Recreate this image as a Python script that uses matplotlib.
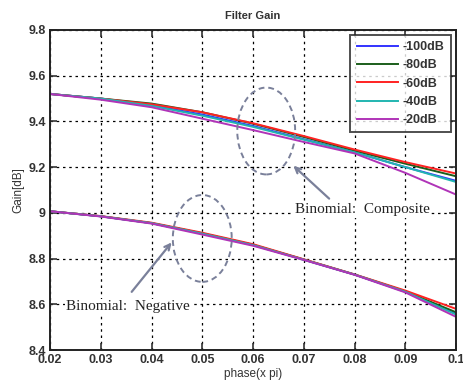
import matplotlib
matplotlib.use("Agg")
import matplotlib.pyplot as plt
from matplotlib.patches import Ellipse

plt.rcParams['font.family'] = ['Liberation Sans', 'DejaVu Sans']

phase = [0.02, 0.03, 0.04, 0.05, 0.06, 0.07, 0.08, 0.09, 0.10]
labels = ["-100dB", "-80dB", "-60dB", "-40dB", "-20dB"]
colors = ["#3333ff", "#1b5e1b", "#ff2222", "#22b5b0", "#b034b8"]

# Binomial: Composite (upper family)
composite = {
    "-100dB": [9.52, 9.50, 9.470, 9.430, 9.380, 9.322, 9.265, 9.200, 9.140],
    "-80dB":  [9.52, 9.50, 9.478, 9.440, 9.390, 9.332, 9.272, 9.215, 9.160],
    "-60dB":  [9.52, 9.50, 9.475, 9.440, 9.392, 9.336, 9.277, 9.222, 9.172],
    "-40dB":  [9.52, 9.50, 9.468, 9.425, 9.376, 9.320, 9.265, 9.200, 9.135],
    "-20dB":  [9.52, 9.495, 9.462, 9.412, 9.362, 9.310, 9.260, 9.175, 9.080],
}
# Binomial: Negative (lower family)
negative = {
    "-100dB": [9.007, 8.985, 8.955, 8.910, 8.860, 8.795, 8.730, 8.655, 8.560],
    "-80dB":  [9.007, 8.985, 8.955, 8.910, 8.860, 8.796, 8.730, 8.657, 8.565],
    "-60dB":  [9.007, 8.986, 8.957, 8.913, 8.863, 8.797, 8.731, 8.660, 8.580],
    "-40dB":  [9.007, 8.985, 8.955, 8.909, 8.859, 8.795, 8.730, 8.655, 8.555],
    "-20dB":  [9.007, 8.984, 8.953, 8.905, 8.856, 8.794, 8.729, 8.652, 8.545],
}

xticks = [0.02, 0.03, 0.04, 0.05, 0.06, 0.07, 0.08, 0.09, 0.1]
xticklabels = ["0.02", "0.03", "0.04", "0.05", "0.06", "0.07", "0.08", "0.09", "0.1"]
yticks = [8.4, 8.6, 8.8, 9.0, 9.2, 9.4, 9.6, 9.8]
yticklabels = ["8.4", "8.6", "8.8", "9", "9.2", "9.4", "9.6", "9.8"]

fig = plt.figure(figsize=(4.63, 3.84), dpi=100)
ax = fig.add_axes([0.108, 0.0885, 0.877, 0.8335])

for lab, col in zip(labels, colors):
    ax.plot(phase, composite[lab], color=col, lw=1.4, label=lab)
for lab, col in zip(labels, colors):
    ax.plot(phase, negative[lab], color=col, lw=1.4)

ax.set_xlim(0.02, 0.1)
ax.set_ylim(8.4, 9.8)
ax.set_xticks(xticks)
ax.set_xticklabels(xticklabels)
ax.set_yticks(yticks)
ax.set_yticklabels(yticklabels)
ax.tick_params(direction="in", top=True, right=True, length=5, width=1.2,
               labelsize=9, colors="#333333", labelcolor="#333333", pad=3)
for lbl in ax.get_xticklabels() + ax.get_yticklabels():
    lbl.set_fontweight("bold")
ax.grid(True, color="black", linestyle=(0, (2, 3)), lw=0.9)
for s in ax.spines.values():
    s.set_linewidth(1.4)
    s.set_color("#222222")

ax.set_title("Filter Gain", fontsize=8, fontweight="bold", color="#333333", pad=8)
ax.set_xlabel("phase(x pi)", fontsize=8.5, color="#333333", labelpad=1)
ax.set_ylabel("Gain[dB]", fontsize=8.5, color="#333333", labelpad=3)

ecol = "#7a809a"
ax.add_patch(Ellipse((0.0626, 9.358), 0.0114, 0.38, fill=False, ec=ecol,
                     lw=1.4, ls=(0, (3, 2)), zorder=5))
ax.add_patch(Ellipse((0.0500, 8.888), 0.0116, 0.38, fill=False, ec=ecol,
                     lw=1.4, ls=(0, (3, 2)), zorder=5))

ax.annotate("", xy=(0.06755, 9.214), xytext=(0.0754, 9.054),
            arrowprops=dict(arrowstyle="->", color=ecol, lw=1.6), zorder=6)
ax.annotate("", xy=(0.04430, 8.880), xytext=(0.03575, 8.645),
            arrowprops=dict(arrowstyle="->", color=ecol, lw=1.6), zorder=6)

serif = ["Liberation Serif", "DejaVu Serif"]
ax.text(0.0683, 9.013, "Binomial:  Composite", family=serif, fontsize=11,
        va="center", ha="left", color="#222222", zorder=7,
        bbox=dict(fc="white", ec="none", pad=1))
ax.text(0.0232, 8.59, "Binomial:  Negative", family=serif, fontsize=11,
        va="center", ha="left", color="#222222", zorder=7,
        bbox=dict(fc="white", ec="none", pad=1))

leg = ax.legend(loc="upper right", fontsize=9, frameon=True, fancybox=False,
                borderaxespad=0.4, handlelength=3.3, labelspacing=0.5,
                borderpad=0.5, handletextpad=0.4)
leg.get_frame().set_edgecolor("#222222")
leg.get_frame().set_linewidth(1.4)
for t in leg.get_texts():
    t.set_fontweight("bold")
    t.set_color("#333333")

fig.savefig("out.png", dpi=100)
